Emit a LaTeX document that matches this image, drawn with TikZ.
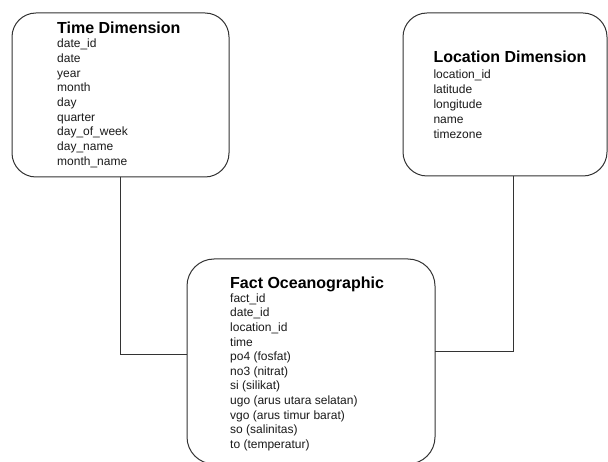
\documentclass[tikz,border=0pt]{standalone}
\usepackage{fontspec}
\setmainfont{Liberation Sans}
\definecolor{linec}{HTML}{333333}
\definecolor{txtc}{HTML}{1A1A1A}
\begin{document}
\begin{tikzpicture}[x=1pt,y=-1pt,
  tbox/.style={draw=linec, line width=1pt, fill=white, inner sep=0pt, outer sep=0pt},
  ttl/.style={anchor=base west, inner sep=0pt, font=\bfseries\fontsize{16}{19}\selectfont, text=black},
  itm/.style={anchor=base west, inner sep=0pt, font=\fontsize{12}{14}\selectfont, text=txtc},
  conn/.style={draw=linec, line width=1pt}]
\useasboundingbox (0,0) rectangle (608,462);
\fill[white] (0,0) rectangle (608,462);
% boxes
\node[tbox, rounded corners=24pt, minimum width=217pt, minimum height=164pt] (time) at (120.5,95) {};
\node[tbox, rounded corners=24pt, minimum width=204pt, minimum height=163pt] (loc) at (505,94.5) {};
\node[tbox, rounded corners=27pt, minimum width=248pt, minimum height=205pt] (fact) at (311,361.5) {};
% connectors
\draw[conn] (time.south) |- ([yshift=6.5pt]fact.west);
\draw[conn] ([xshift=8pt]loc.south) |- ([yshift=9.5pt]fact.east);
% Time dimension
\node[ttl] (tt) at (57,33.3) {Time Dimension};
\foreach [count=\i] \t in {date\_id, date, year, month, day, quarter, day\_of\_week, day\_name, month\_name}
  \node[itm] (ti\i) at (57,{47.7+(\i-1)*14.7}) {\t};
% Location dimension
\node[ttl] (lt) at (433.3,62.7) {Location Dimension};
\foreach [count=\i] \t in {location\_id, latitude, longitude, name, timezone}
  \node[itm] (li\i) at (433.3,{78.3+(\i-1)*15}) {\t};
% Fact
\node[ttl] (ft) at (230,289) {Fact Oceanographic};
\foreach [count=\i] \t in {fact\_id, date\_id, location\_id, time, po4 (fosfat), no3 (nitrat), si (silikat), ugo (arus utara selatan), vgo (arus timur barat), so (salinitas), to (temperatur)}
  \node[itm] (fi\i) at (230,{302.3+(\i-1)*14.6}) {\t};
\end{tikzpicture}
\end{document}
